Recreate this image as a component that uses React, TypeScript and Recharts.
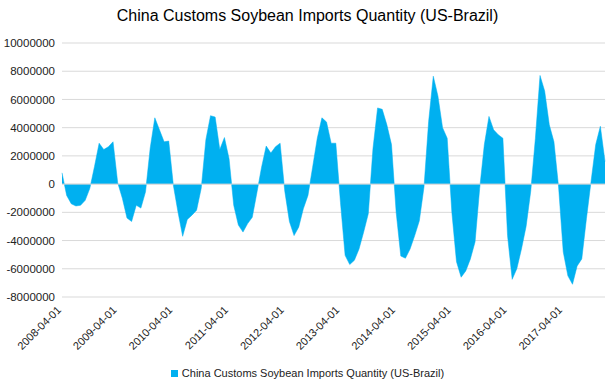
import React from "react";
import { AreaChart, Area, XAxis, YAxis, CartesianGrid, ReferenceLine } from "recharts";

const seriesName = "China Customs Soybean Imports Quantity (US-Brazil)";
const startYear = 2008;
const startMonth = 4;
const monthCount = 118;

const values: number[] = [
  800000, -800000, -1400000, -1550000, -1500000, -1150000, -300000, 1250000, 2900000, 2450000, 2650000, 3000000,
  100000, -1000000, -2400000, -2650000, -1500000, -1700000, -550000, 2550000, 4700000, 3850000, 3000000, 3050000,
  -100000, -2000000, -3700000, -2500000, -2200000, -1850000, -300000, 3150000, 4850000, 4750000, 2450000, 3300000,
  1800000, -1500000, -2900000, -3400000, -2800000, -2350000, -600000, 1200000, 2700000, 2200000, 2650000, 2900000,
  -500000, -2650000, -3650000, -3050000, -1750000, -800000, 1200000, 3250000, 4700000, 4400000, 2900000, 2900000,
  -1300000, -5050000, -5700000, -5400000, -4600000, -3400000, -2100000, 2500000, 5400000, 5300000, 4200000, 2800000,
  -2000000, -5100000, -5250000, -4600000, -3650000, -2600000, -200000, 4450000, 7650000, 6250000, 4000000, 3250000,
  -2000000, -5500000, -6600000, -6150000, -5300000, -4100000, -300000, 2800000, 4800000, 3850000, 3500000, 3250000,
  -3650000, -6750000, -6000000, -4600000, -3000000, -500000, 3250000, 7700000, 6600000, 4200000, 3000000, -200000,
  -4800000, -6500000, -7100000, -5800000, -5300000, -2450000, 200000, 2800000, 4100000, 1600000,
];

const yTicks: number[] = [-8000000, -6000000, -4000000, -2000000, 0, 2000000, 4000000, 6000000, 8000000, 10000000];

const dates: string[] = [];
for (let i = 0; i < monthCount; i++) {
  const m0 = startMonth - 1 + i;
  const y = startYear + Math.floor(m0 / 12);
  const m = (m0 % 12) + 1;
  dates.push(`${y}-${String(m).padStart(2, "0")}-01`);
}

const data = dates.map((d, i) => ({ date: d, value: values[i] }));

const FONT = "'Liberation Sans', Arial, sans-serif";

const XTick = (props: any) => {
  const { x, y, payload } = props;
  return (
    <g transform={`translate(${x - 3},${y + 11})`}>
      <text
        transform="rotate(-45)"
        textAnchor="end"
        dy="0.35em"
        fontSize={11}
        fontFamily={FONT}
        fill="#222"
      >
        {payload.value}
      </text>
    </g>
  );
};

export default function App() {
  return (
    <div style={{ position: "absolute", left: 0, top: 0, width: 615, height: 390, background: "#fff" }}>
      <div
        style={{
          position: "absolute",
          left: 0,
          top: 6,
          width: 615,
          textAlign: "center",
          fontFamily: FONT,
          fontSize: 16,
          color: "#000",
          lineHeight: "20px",
        }}
      >
        China Customs Soybean Imports Quantity (US-Brazil)
      </div>
      <AreaChart
        width={615}
        height={390}
        data={data}
        margin={{ top: 43, right: 10, left: 0, bottom: 0 }}
      >
        <CartesianGrid horizontal={true} vertical={false} stroke="#d9d9d9" strokeWidth={1} />
        <XAxis
          dataKey="date"
          interval={11}
          axisLine={false}
          tickLine={false}
          tickSize={0}
          tickMargin={0}
          height={93}
          tick={<XTick />}
        />
        <YAxis
          type="number"
          domain={[-8000000, 10000000]}
          ticks={yTicks}
          width={62}
          axisLine={false}
          tickLine={false}
          tickSize={0}
          tickMargin={7}
          interval={0}
          tick={{ fontSize: 11.5, fontFamily: FONT, fill: "#222" }}
        />
        <Area
          type="linear"
          dataKey="value"
          name={seriesName}
          fill="#00b0f0"
          fillOpacity={1}
          stroke="#00b0f0"
          strokeWidth={0.5}
          isAnimationActive={false}
          dot={false}
          activeDot={false}
        />
        <ReferenceLine y={0} stroke="#d9d9d9" strokeWidth={1} />
      </AreaChart>
      <div
        style={{
          position: "absolute",
          left: 0,
          top: 366,
          width: 615,
          display: "flex",
          justifyContent: "center",
          alignItems: "center",
          fontFamily: FONT,
          fontSize: 11,
          color: "#222",
          lineHeight: "14px",
        }}
      >
        <span style={{ display: "inline-block", width: 7, height: 7, background: "#00b0f0", marginRight: 4 }} />
        <span>{seriesName}</span>
      </div>
    </div>
  );
}
